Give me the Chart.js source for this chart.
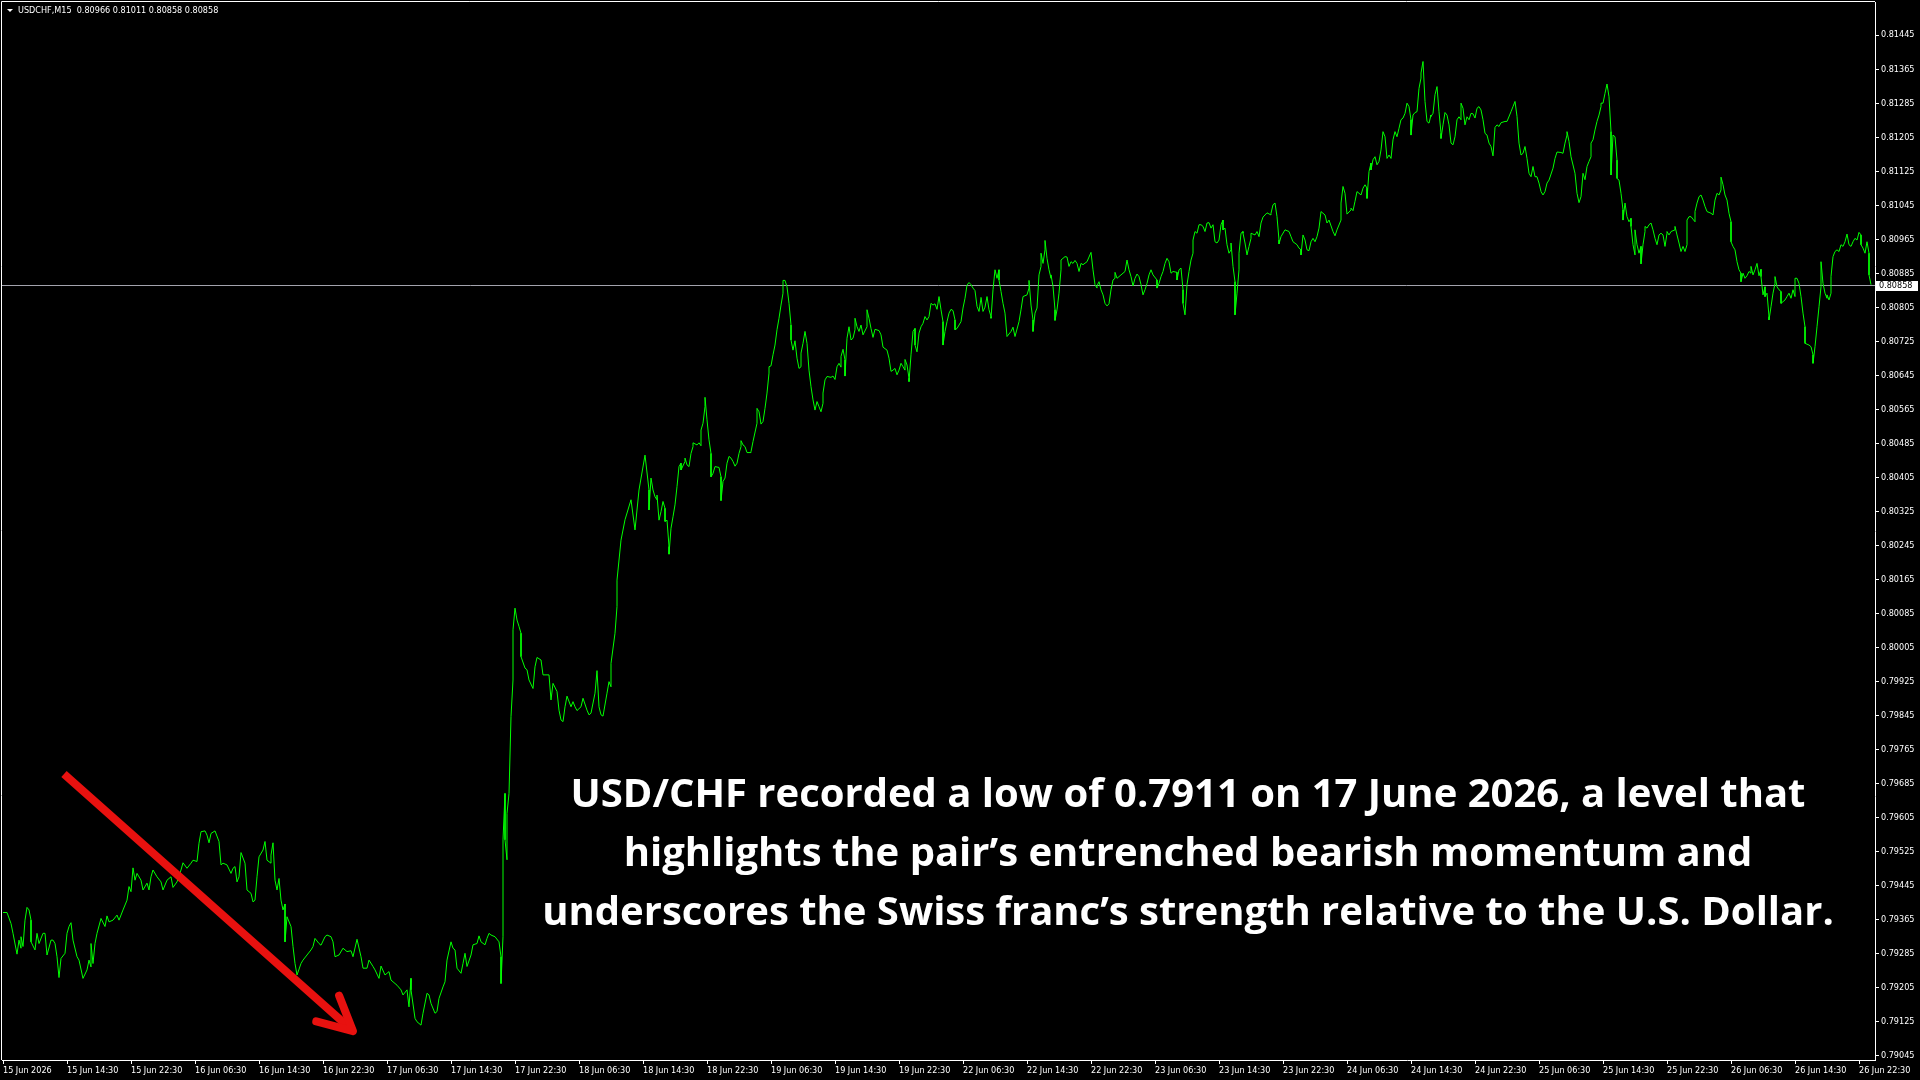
<!DOCTYPE html>
<html>
<head>
<meta charset="utf-8">
<title>USDCHF M15</title>
<script src="https://cdn.jsdelivr.net/npm/chart.js@4.4.1/dist/chart.umd.min.js"></script>
<style>
    html, body { margin: 0; padding: 0; background: #000; }
    #wrap { position: relative; width: 1920px; height: 1080px; overflow: hidden; }
    #note {
        position: absolute; left: 488px; top: 763px; width: 1400px;
        color: #fff; text-align: center;
        font-family: "Open Sans", Lato, sans-serif; font-weight: 700;
        font-size: 40px; line-height: 58.8px;
    }
</style>
</head>
<body>
<div id="wrap">
    <canvas id="chart" width="1920" height="1080"></canvas>
    <div id="note">USD/CHF recorded a low of 0.7911 on 17 June 2026, a level that<br>highlights the pair’s entrenched bearish momentum and<br>underscores the Swiss franc’s strength relative to the U.S. Dollar.</div>
</div>
<script>
// symbol header (open, high, low, close of the last bar)
const symbolName = "USDCHF,M15";
const lastQuote = [0.80966, 0.81011, 0.80858, 0.80858];
const lastPrice = 0.80858;

// time axis labels, one every 32 bars (8 hours of M15)
const timeLabels = ["15 Jun 2026", "15 Jun 14:30", "15 Jun 22:30", "16 Jun 06:30", "16 Jun 14:30",
    "16 Jun 22:30", "17 Jun 06:30", "17 Jun 14:30", "17 Jun 22:30", "18 Jun 06:30", "18 Jun 14:30",
    "18 Jun 22:30", "19 Jun 06:30", "19 Jun 14:30", "19 Jun 22:30", "22 Jun 06:30", "22 Jun 14:30",
    "22 Jun 22:30", "23 Jun 06:30", "23 Jun 14:30", "23 Jun 22:30", "24 Jun 06:30", "24 Jun 14:30",
    "24 Jun 22:30", "25 Jun 06:30", "25 Jun 14:30", "25 Jun 22:30", "26 Jun 06:30", "26 Jun 14:30",
    "26 Jun 22:30"];
const barsPerLabel = 32;

// price axis labels
const priceTicks = [0.79045, 0.79125, 0.79205, 0.79285, 0.79365, 0.79445, 0.79525, 0.79605,
    0.79685, 0.79765, 0.79845, 0.79925, 0.80005, 0.80085, 0.80165, 0.80245, 0.80325, 0.80405,
    0.80485, 0.80565, 0.80645, 0.80725, 0.80805, 0.80885, 0.80965, 0.81045, 0.81125, 0.81205,
    0.81285, 0.81365, 0.81445];

// arrow note: from [bar, price] to [bar, price]
const arrowFrom = [30.5, 0.79707];
const arrowTo = [175, 0.79102];

// close prices: [bar index, close]
const m15Closes = [
    // 15 - 17 Jun
    [0, 0.79381], [2, 0.79381], [4, 0.79355], [5, 0.79332], [7, 0.79283], [8, 0.79316], [9, 0.79297], [9, 0.79324],
    [10, 0.79301], [11, 0.79363], [12, 0.79393], [13, 0.79387], [14, 0.79363], [14, 0.79312], [16, 0.79293], [17, 0.79332],
    [18, 0.79308], [20, 0.79332], [21, 0.79332], [22, 0.79281], [24, 0.79316], [25, 0.79316], [26, 0.79308], [27, 0.79277],
    [28, 0.79228], [29, 0.79273], [31, 0.79285], [32, 0.79332], [33, 0.79348], [34, 0.79357], [35, 0.79316], [37, 0.79277],
    [38, 0.79269], [40, 0.79226], [42, 0.79246], [43, 0.79269], [44, 0.79253], [44, 0.79308], [45, 0.79261], [46, 0.79308],
    [47, 0.79332], [49, 0.79367], [51, 0.79348], [52, 0.79373], [53, 0.79359], [55, 0.79363], [57, 0.79375], [58, 0.79363],
    [60, 0.79387], [62, 0.7941], [63, 0.79442], [64, 0.7943], [65, 0.79486], [66, 0.79457], [67, 0.79473], [69, 0.79457],
    [70, 0.79434], [72, 0.7945], [73, 0.79434], [74, 0.79465], [75, 0.79481], [77, 0.79465], [79, 0.79453], [80, 0.79434],
    [82, 0.79457], [84, 0.79465], [85, 0.7944], [87, 0.79453], [89, 0.79481], [90, 0.79498], [92, 0.79485], [94, 0.79497],
    [95, 0.79504], [97, 0.79501], [98, 0.79544], [99, 0.79571], [101, 0.79573], [102, 0.79563], [103, 0.79545], [104, 0.79567],
    [106, 0.79573], [108, 0.79548], [109, 0.79493], [110, 0.79497], [112, 0.79493], [114, 0.79473], [115, 0.79485], [116, 0.79489],
    [117, 0.79453], [118, 0.79465], [119, 0.79522], [121, 0.79497], [122, 0.79434], [124, 0.79426], [125, 0.79406], [126, 0.7941],
    [127, 0.79465], [128, 0.79512], [130, 0.79528], [131, 0.79548], [132, 0.79504], [134, 0.79497], [134, 0.79516], [135, 0.79545],
    [136, 0.79457], [137, 0.79434], [138, 0.79461], [139, 0.7941], [140, 0.79387], [141, 0.79401], [141, 0.79312], [142, 0.79371],
    [144, 0.79348], [145, 0.79301], [146, 0.79261], [147, 0.79234], [149, 0.79261], [150, 0.79269], [152, 0.79281], [154, 0.79293],
    [155, 0.79301], [156, 0.7932], [158, 0.79308], [159, 0.79304], [161, 0.79324], [162, 0.79328], [164, 0.79324],
    [165, 0.79312], [166, 0.79277], [168, 0.79281], [170, 0.79297], [172, 0.79289], [174, 0.79291], [175, 0.79277], [177, 0.79318],
    [179, 0.79277], [180, 0.7925], [182, 0.7925], [183, 0.79269], [185, 0.79254], [186, 0.79246], [188, 0.79226], [189, 0.79255],
    [191, 0.79234], [193, 0.79242], [194, 0.79222], [197, 0.7921], [199, 0.79199], [200, 0.79187], [202, 0.79199], [203, 0.79159],
    [204, 0.79226], [204, 0.79199], [206, 0.79132], [207, 0.79124], [209, 0.79116], [210, 0.79144], [212, 0.79191], [213, 0.79187],
    [214, 0.79167], [216, 0.79144], [217, 0.79148], [218, 0.79179], [220, 0.79206], [221, 0.79218], [222, 0.79269], [224, 0.79312],
    [225, 0.79297], [226, 0.79293], [227, 0.7925], [229, 0.79238], [230, 0.79261], [231, 0.79285], [232, 0.79254], [234, 0.79281],
    [235, 0.79305], [237, 0.79308], [238, 0.79326], [239, 0.79312], [241, 0.79305], [242, 0.7932], [243, 0.79332], [244, 0.79328],
    [246, 0.79324], [248, 0.79312], [249, 0.79277], [249, 0.79214], [250, 0.79324], [250, 0.79552], [251, 0.79661], [251, 0.79552],
    [252, 0.79505], [252, 0.79614], [253, 0.79661], [254, 0.79842], [255, 0.79928], [255, 0.80046], [256, 0.80097], [257, 0.80069],
    // 18 - 19 Jun
    [258, 0.80054], [259, 0.80038], [259, 0.79983], [261, 0.79956], [262, 0.79952], [263, 0.79928], [265, 0.79908], [266, 0.79959],
    [267, 0.79981], [269, 0.79975], [270, 0.7994], [272, 0.7994], [273, 0.7994], [274, 0.79881], [275, 0.7992], [277, 0.79901],
    [278, 0.79857], [279, 0.79834], [280, 0.7983], [281, 0.79865], [282, 0.7989], [284, 0.79865], [285, 0.79877], [286, 0.79865],
    [287, 0.79856], [289, 0.79865], [290, 0.79885], [292, 0.79857], [293, 0.79846], [294, 0.7985], [296, 0.79897], [297, 0.7995],
    [298, 0.79865], [299, 0.79846], [300, 0.79843], [302, 0.79897], [303, 0.79924], [304, 0.79912], [304, 0.79967], [306, 0.80038],
    [307, 0.80101], [307, 0.80163], [309, 0.80257], [311, 0.80305], [314, 0.80352], [316, 0.80281], [318, 0.80375], [321, 0.80457],
    [323, 0.80375], [323, 0.80328], [324, 0.80403], [325, 0.80375], [326, 0.80359], [327, 0.80352], [327, 0.80363], [328, 0.80304],
    [329, 0.80324], [330, 0.80348], [331, 0.80332], [331, 0.80301], [332, 0.80304], [333, 0.80242], [333, 0.80224], [334, 0.80285],
    [335, 0.80312], [336, 0.8034], [337, 0.80383], [338, 0.8043], [339, 0.80438], [339, 0.80422], [341, 0.80442], [341, 0.8045],
    [342, 0.80434], [343, 0.8043], [344, 0.80461], [345, 0.80477], [345, 0.80486], [347, 0.80481], [348, 0.80486], [349, 0.80479],
    [349, 0.80516], [350, 0.80532], [351, 0.80571], [351, 0.80593], [352, 0.8054], [353, 0.80493], [354, 0.80461], [354, 0.80406],
    [355, 0.80414], [356, 0.8043], [358, 0.80428], [359, 0.80406], [359, 0.8035], [360, 0.80395], [361, 0.80403], [362, 0.80438],
    [363, 0.80454], [364, 0.8045], [365, 0.80442], [366, 0.80431], [367, 0.80438], [368, 0.80461], [369, 0.80477], [369, 0.80491],
    [370, 0.80481], [371, 0.80477], [372, 0.80463], [374, 0.80463], [374, 0.80465], [375, 0.80489], [377, 0.80532], [377, 0.80567],
    [378, 0.80559], [379, 0.8053], [380, 0.80536], [381, 0.80567], [382, 0.80603], [383, 0.8065], [383, 0.80665], [384, 0.80667],
    [385, 0.80693], [386, 0.80716], [387, 0.80752], [388, 0.80779], [389, 0.8081], [390, 0.80838], [390, 0.80868], [391, 0.80868],
    [392, 0.80853], [393, 0.80814], [394, 0.80763], [394, 0.80728], [395, 0.80704], [396, 0.80726], [397, 0.80685], [398, 0.80661],
    [399, 0.80665], [399, 0.80697], [400, 0.8072], [401, 0.80748], [402, 0.8072], [403, 0.80657], [404, 0.80618], [405, 0.80587],
    [406, 0.80563], [407, 0.80583], [408, 0.80571], [409, 0.80559], [410, 0.80579], [410, 0.80603], [411, 0.80634], [412, 0.80642],
    [414, 0.8064], [415, 0.80643], [416, 0.80635], [417, 0.80665], [418, 0.80673], [419, 0.80664], [419, 0.80689], [420, 0.80706],
    [421, 0.80681], [421, 0.80643], [422, 0.80732], [423, 0.80759], [424, 0.80728], [425, 0.80732], [426, 0.80752], [426, 0.80779],
    [427, 0.80759], [428, 0.80748], [429, 0.80763], [430, 0.8074], [432, 0.80759], [432, 0.80799], [433, 0.80779], [434, 0.80755],
    [435, 0.80734], [436, 0.80753], [438, 0.8075], [439, 0.8074], [440, 0.80711], [442, 0.80704], [443, 0.80685], [444, 0.80654],
    [445, 0.80657], [446, 0.80661], [447, 0.80646], [448, 0.80657], [449, 0.80673], [450, 0.80665], [451, 0.80657], [451, 0.80682],
    [452, 0.80669], [453, 0.80638], [453, 0.8063], [454, 0.80693], [455, 0.80748], [456, 0.80755], [456, 0.80716], [457, 0.807],
    // 22 - 23 Jun
    [458, 0.80744], [459, 0.80759], [460, 0.80767], [461, 0.80783], [462, 0.80775], [463, 0.80783], [464, 0.80814], [465, 0.8081],
    [466, 0.80813], [467, 0.808], [468, 0.8083], [469, 0.80799], [470, 0.80771], [470, 0.80716], [471, 0.80748], [472, 0.80771],
    [473, 0.80791], [474, 0.808], [475, 0.80797], [476, 0.80775], [476, 0.80752], [477, 0.80755], [479, 0.80771], [480, 0.80803],
    [481, 0.80826], [482, 0.80857], [483, 0.80863], [484, 0.80858], [485, 0.8085], [486, 0.80844], [487, 0.80807], [488, 0.80795],
    [489, 0.80826], [489, 0.80828], [490, 0.80795], [491, 0.80805], [492, 0.8083], [493, 0.80799], [494, 0.80783], [494, 0.80779],
    [495, 0.80846], [496, 0.80893], [497, 0.80873], [498, 0.80893], [498, 0.80869], [499, 0.80842], [500, 0.80814], [501, 0.80791],
    [502, 0.80736], [504, 0.80748], [505, 0.80758], [506, 0.80736], [508, 0.80771], [509, 0.80799], [510, 0.8083], [512, 0.80834],
    [513, 0.8085], [513, 0.80868], [514, 0.8081], [515, 0.80775], [515, 0.80748], [516, 0.80791], [517, 0.80803], [518, 0.80881],
    [519, 0.80901], [519, 0.80932], [520, 0.80908], [521, 0.8094], [521, 0.80962], [522, 0.8092], [523, 0.80893], [524, 0.80873],
    [524, 0.80881], [525, 0.80854], [526, 0.80799], [526, 0.80774], [527, 0.80799], [528, 0.80838], [529, 0.80893], [529, 0.80916],
    [531, 0.80924], [532, 0.80923], [533, 0.80901], [534, 0.80912], [535, 0.80908], [536, 0.80915], [537, 0.80908], [538, 0.80889],
    [539, 0.80908], [540, 0.80905], [542, 0.80912], [543, 0.80923], [544, 0.80934], [545, 0.80893], [546, 0.80858], [547, 0.8085],
    [547, 0.80855], [548, 0.80865], [549, 0.80846], [550, 0.80834], [551, 0.80814], [552, 0.80808], [553, 0.80813], [554, 0.80846],
    [555, 0.80869], [556, 0.80873], [556, 0.80887], [557, 0.80873], [558, 0.80877], [560, 0.80885], [561, 0.80889], [562, 0.80916],
    [563, 0.80893], [564, 0.80877], [565, 0.80855], [566, 0.80873], [567, 0.80883], [568, 0.80877], [569, 0.80858], [570, 0.80834],
    [571, 0.80846], [572, 0.80861], [573, 0.80881], [574, 0.80893], [575, 0.80881], [577, 0.80869], [577, 0.8085], [578, 0.80861],
    [579, 0.80877], [580, 0.80889], [581, 0.80908], [582, 0.8092], [583, 0.80912], [584, 0.80885], [585, 0.80889], [587, 0.80887],
    [587, 0.80869], [588, 0.80893], [589, 0.80897], [590, 0.80846], [590, 0.80814], [591, 0.80787], [592, 0.80858], [593, 0.80889],
    [594, 0.80916], [595, 0.80932], [595, 0.80963], [596, 0.80983], [597, 0.80979], [598, 0.80999], [599, 0.80999], [600, 0.80995],
    [601, 0.80983], [602, 0.81003], [603, 0.81004], [604, 0.80991], [605, 0.80999], [606, 0.80959], [607, 0.80956], [608, 0.80963],
    [609, 0.80999], [610, 0.8101], [610, 0.80987], [611, 0.80991], [612, 0.80952], [613, 0.80932], [614, 0.8094], [614, 0.80956],
    [615, 0.80901], [616, 0.80865], [616, 0.80787], [617, 0.80838], [618, 0.80893], [618, 0.80932], [619, 0.80979], [620, 0.80983],
    [620, 0.80979], [621, 0.80956], [622, 0.80928], [623, 0.80948], [624, 0.80967], [624, 0.80979], [626, 0.80975], [627, 0.80983],
    [628, 0.80971], [629, 0.81003], [630, 0.81017], [632, 0.81027],
    // 24 - 25 Jun
    [634, 0.81022], [634, 0.81026], [635, 0.81046], [636, 0.8105], [637, 0.81018], [638, 0.80963], [638, 0.80954], [639, 0.80971],
    [641, 0.80987], [643, 0.80983], [644, 0.80971], [645, 0.80959], [647, 0.80952], [648, 0.80944], [649, 0.8094], [649, 0.80928],
    [650, 0.80975], [651, 0.80963], [652, 0.8094], [653, 0.80938], [654, 0.80959], [655, 0.80967], [656, 0.80959], [657, 0.80971],
    [658, 0.80991], [659, 0.8103], [661, 0.81022], [662, 0.81003], [663, 0.8101], [665, 0.80983], [666, 0.80973], [667, 0.80987],
    [669, 0.8101], [669, 0.8105], [670, 0.81089], [671, 0.81073], [672, 0.81024], [674, 0.81034], [674, 0.81038], [675, 0.81032],
    [676, 0.81054], [677, 0.81077], [679, 0.81069], [680, 0.81085], [681, 0.81093], [682, 0.81085], [682, 0.81061], [683, 0.81124],
    [684, 0.81144], [684, 0.81128], [685, 0.81152], [686, 0.81159], [687, 0.8114], [688, 0.81148], [689, 0.81175], [690, 0.81218],
    [691, 0.81206], [692, 0.81155], [693, 0.81163], [694, 0.81155], [695, 0.81199], [696, 0.81218], [697, 0.81206], [698, 0.81226],
    [699, 0.81246], [700, 0.8125], [701, 0.81261], [702, 0.81285], [703, 0.81277], [704, 0.81246], [704, 0.8121], [705, 0.81257],
    [706, 0.81263], [707, 0.81265], [708, 0.8132], [709, 0.81344], [709, 0.81356], [710, 0.81383], [711, 0.81289], [712, 0.81242],
    [713, 0.81238], [714, 0.81257], [714, 0.81254], [715, 0.81261], [716, 0.81305], [717, 0.81324], [718, 0.81265], [719, 0.81214],
    [719, 0.81202], [720, 0.81234], [721, 0.81263], [722, 0.81257], [723, 0.81234], [724, 0.81191], [725, 0.81187], [726, 0.81206],
    [727, 0.81246], [728, 0.81253], [729, 0.81246], [729, 0.81285], [730, 0.81273], [731, 0.81234], [732, 0.81253], [733, 0.81246],
    [734, 0.81261], [735, 0.8126], [736, 0.8125], [737, 0.81273], [738, 0.81277], [739, 0.81269], [740, 0.81246], [741, 0.81214],
    [742, 0.8121], [743, 0.81191], [744, 0.81183], [745, 0.81161], [746, 0.81228], [747, 0.81234], [748, 0.8123], [749, 0.81239],
    [751, 0.81242], [752, 0.81242], [754, 0.81265], [755, 0.81277], [756, 0.81289], [757, 0.81254], [758, 0.81191], [759, 0.81163],
    [760, 0.81167], [761, 0.81183], [762, 0.81155], [763, 0.8112], [764, 0.81112], [765, 0.81136], [766, 0.81112], [767, 0.81112],
    [768, 0.81097], [769, 0.81077], [770, 0.81069], [771, 0.81077], [772, 0.81097], [773, 0.81104], [775, 0.81132], [776, 0.81155],
    [777, 0.8117], [779, 0.81169], [780, 0.81167], [781, 0.81191], [782, 0.8121], [782, 0.81218], [783, 0.81195], [784, 0.81159],
    [786, 0.8112], [787, 0.81073], [788, 0.81051], [789, 0.81065],
    // 25 - 26 Jun
    [790, 0.8112], [791, 0.81105], [792, 0.81136], [793, 0.81148], [794, 0.81159], [794, 0.81191], [795, 0.81199], [796, 0.81222],
    [797, 0.81242], [798, 0.81257], [799, 0.81277], [799, 0.81285], [800, 0.81285], [801, 0.81308], [802, 0.8133], [803, 0.813],
    [804, 0.81218], [804, 0.81116], [805, 0.8121], [806, 0.81206], [807, 0.81151], [807, 0.81108], [808, 0.81104], [809, 0.81073],
    [810, 0.81034], [810, 0.8101], [811, 0.8105], [812, 0.81018], [813, 0.81006], [814, 0.81014], [814, 0.80995], [815, 0.80952],
    [816, 0.80928], [816, 0.80987], [817, 0.80952], [818, 0.80932], [819, 0.80948], [819, 0.80907], [820, 0.80952], [821, 0.80983],
    [821, 0.80995], [822, 0.80991], [823, 0.80999], [824, 0.81003], [825, 0.80987], [826, 0.80967], [827, 0.80952], [828, 0.80975],
    [829, 0.80979], [830, 0.80975], [831, 0.80948], [832, 0.80979], [832, 0.80983], [833, 0.80975], [834, 0.80983], [836, 0.80987],
    [836, 0.80995], [837, 0.80975], [838, 0.80956], [839, 0.80936], [840, 0.80948], [841, 0.80936], [842, 0.80952], [842, 0.8101],
    [843, 0.81018], [844, 0.81018], [845, 0.81012], [846, 0.81006], [846, 0.8103], [847, 0.8105], [848, 0.81065], [849, 0.81069],
    [850, 0.81057], [851, 0.81042], [852, 0.8103], [854, 0.81026], [855, 0.81022], [856, 0.81057], [857, 0.81073], [858, 0.81069],
    [859, 0.81081], [859, 0.81111], [860, 0.81093], [861, 0.81069], [862, 0.81057], [863, 0.81026], [864, 0.81006], [864, 0.80959],
    [865, 0.80948], [866, 0.8094], [867, 0.80912], [868, 0.80893], [869, 0.80885], [869, 0.80865], [870, 0.80885], [871, 0.80873],
    [872, 0.80879], [873, 0.80889], [874, 0.80885], [874, 0.80901], [875, 0.80881], [876, 0.80893], [877, 0.80908], [878, 0.80879],
    [879, 0.80894], [879, 0.80877], [880, 0.80834], [881, 0.80853], [881, 0.8083], [882, 0.80838], [883, 0.80783], [883, 0.80775],
    [884, 0.80806], [885, 0.80838], [886, 0.80861], [886, 0.80877], [887, 0.80853], [888, 0.80846], [889, 0.80842], [889, 0.80814],
    [891, 0.80822], [892, 0.8083], [893, 0.80838], [894, 0.80826], [895, 0.80846], [896, 0.8083], [896, 0.80873], [897, 0.80873],
    [898, 0.80861], [899, 0.8083], [900, 0.80791], [901, 0.80759], [901, 0.8072], [903, 0.80716], [904, 0.80712], [905, 0.80693],
    [905, 0.80673], [906, 0.80712], [907, 0.80759], [908, 0.80806], [909, 0.80853], [909, 0.80912], [910, 0.80861], [911, 0.80838],
    [912, 0.80826], [912, 0.80834], [913, 0.80822], [914, 0.80838], [914, 0.80877], [915, 0.80924], [916, 0.80936], [917, 0.8094],
    [918, 0.80936], [919, 0.80952], [920, 0.80948], [921, 0.80959], [922, 0.80977], [923, 0.80952], [924, 0.80948], [925, 0.80959],
    [926, 0.80967], [927, 0.80963], [928, 0.80981], [929, 0.80975], [929, 0.80952], [930, 0.80944], [931, 0.80932], [932, 0.80959],
    [933, 0.80932], [933, 0.80881], [934, 0.80858]
];

const axisFont = { family: '"DejaVu Sans Condensed", "Liberation Sans", sans-serif', size: 9 };

// MT4 look: black background, frame, bid line, price box, header, arrow
const mt4Plugin = {
    id: 'mt4',
    beforeDraw(chart) {
        const c = chart.ctx;
        c.save();
        c.fillStyle = '#000';
        c.fillRect(0, 0, chart.width, chart.height);
        c.restore();
    },
    beforeDatasetsDraw(chart) {
        const c = chart.ctx, a = chart.chartArea;
        const py = Math.round(chart.scales.y.getPixelForValue(lastPrice)) + 0.5;
        c.save();
        c.strokeStyle = '#a3a3ad';
        c.lineWidth = 1;
        c.beginPath();
        c.moveTo(a.left, py);
        c.lineTo(a.right, py);
        c.stroke();
        c.restore();
    },
    afterDraw(chart) {
        const c = chart.ctx, a = chart.chartArea;
        const xs = chart.scales.x, ys = chart.scales.y;
        c.save();
        // left and top frame lines
        c.strokeStyle = '#fff';
        c.lineWidth = 1;
        c.beginPath();
        c.moveTo(a.left - 0.5, a.bottom);
        c.lineTo(a.left - 0.5, a.top - 0.5);
        c.lineTo(a.right, a.top - 0.5);
        c.stroke();

        // last price box on the price axis
        const py = Math.round(ys.getPixelForValue(lastPrice));
        c.fillStyle = '#fff';
        c.fillRect(a.right + 1, py - 4, 42, 10);
        c.fillStyle = '#000';
        c.font = axisFont.size + 'px ' + axisFont.family;
        c.textBaseline = 'middle';
        c.textAlign = 'left';
        c.fillText(lastPrice.toFixed(5), a.right + 4, py + 1);

        // header
        c.fillStyle = '#fff';
        c.beginPath();
        c.moveTo(7, 9); c.lineTo(13, 9); c.lineTo(10, 12); c.closePath();
        c.fill();
        c.fillText(symbolName + '  ' + lastQuote.map(v => v.toFixed(5)).join(' '), 18, 11);

        // red arrow
        const x0 = xs.getPixelForValue(arrowFrom[0]), y0 = ys.getPixelForValue(arrowFrom[1]);
        const x1 = xs.getPixelForValue(arrowTo[0]), y1 = ys.getPixelForValue(arrowTo[1]);
        const ang = Math.atan2(y1 - y0, x1 - x0);
        c.strokeStyle = '#e8110f';
        c.lineWidth = 8;
        c.lineCap = 'butt';
        c.beginPath();
        c.moveTo(x0, y0);
        c.lineTo(x1, y1);
        c.stroke();
        c.lineCap = 'round';
        c.lineJoin = 'round';
        const head = 38, spread = 0.47;
        c.beginPath();
        c.moveTo(x1 - head * Math.cos(ang - spread), y1 - head * Math.sin(ang - spread));
        c.lineTo(x1, y1);
        c.lineTo(x1 - head * Math.cos(ang + spread), y1 - head * Math.sin(ang + spread));
        c.stroke();
        c.restore();
    }
};

const ctx = document.getElementById('chart').getContext('2d');
const chart = new Chart(ctx, {
    type: 'line',
    plugins: [mt4Plugin],
    data: {
        datasets: [{
            label: symbolName,
            data: m15Closes.map(p => ({ x: p[0], y: p[1] })),
            borderColor: '#00ff00',
            borderWidth: 1,
            pointRadius: 0,
            tension: 0,
            fill: false
        }]
    },
    options: {
        responsive: false,
        animation: false,
        layout: { padding: { left: 2, top: 2, right: 0, bottom: 0 } },
        plugins: {
            legend: { display: false },
            title: { display: false },
            tooltip: { enabled: false }
        },
        scales: {
            x: {
                type: 'linear',
                position: 'bottom',
                min: -0.5,
                max: 936,
                border: { color: '#fff', width: 1 },
                grid: { drawOnChartArea: false, tickLength: 4, tickColor: '#fff', tickWidth: 1 },
                afterBuildTicks: ax => { ax.ticks = timeLabels.map((_, i) => ({ value: i * barsPerLabel })); },
                afterFit: ax => { ax.height = 20; ax.paddingLeft = 0; ax.paddingRight = 0; },
                ticks: {
                    autoSkip: false, maxRotation: 0, minRotation: 0, align: 'start', padding: 1,
                    color: '#fff', font: axisFont,
                    callback: v => timeLabels[Math.round(v / barsPerLabel)]
                }
            },
            y: {
                type: 'linear',
                position: 'right',
                min: 0.79034,
                max: 0.81523,
                border: { color: '#fff', width: 1 },
                grid: { drawOnChartArea: false, tickLength: 4, tickColor: '#fff', tickWidth: 1 },
                afterBuildTicks: ax => { ax.ticks = priceTicks.map(v => ({ value: v })); },
                afterFit: ax => { ax.width = 45; ax.paddingTop = 0; ax.paddingBottom = 0; },
                ticks: {
                    color: '#fff', font: axisFont, padding: 2,
                    callback: v => v.toFixed(5)
                }
            }
        }
    }
});
</script>
</body>
</html>
